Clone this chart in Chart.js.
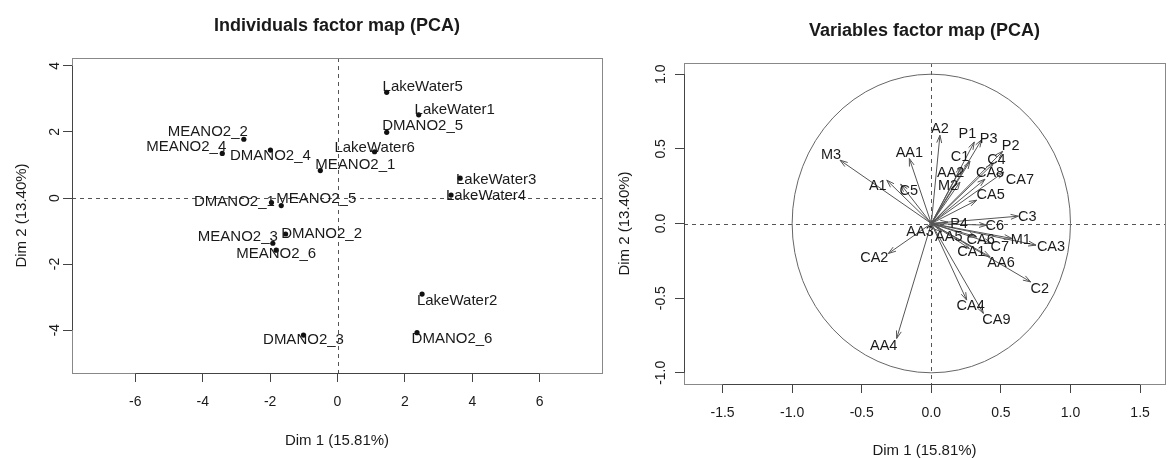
<!DOCTYPE html>
<html>
<head>
<meta charset="utf-8">
<script src="https://cdn.jsdelivr.net/npm/chart.js@4.4.1/dist/chart.umd.min.js"></script>
<style>
  body { margin: 0; background: #fff; width: 1169px; height: 458px; overflow: hidden; position: relative; }
  canvas { position: absolute; top: 0; }
  #indCanvas { left: 0; }
  #varCanvas { left: 606px; }
</style>
</head>
<body>
<canvas id="indCanvas" width="606" height="458"></canvas>
<canvas id="varCanvas" width="563" height="458"></canvas>
<script>
// Individuals (left map)
const indNames = ['LakeWater5', 'LakeWater1', 'DMANO2_5', 'LakeWater6', 'LakeWater3', 'LakeWater4',
  'MEANO2_2', 'MEANO2_4', 'DMANO2_4', 'MEANO2_1', 'DMANO2_1', 'MEANO2_5',
  'DMANO2_2', 'MEANO2_3', 'MEANO2_6', 'LakeWater2', 'DMANO2_6', 'DMANO2_3'];
const indDim1 = [1.46, 2.41, 1.46, 1.10, 3.64, 3.37, -2.78, -3.42, -1.99, -0.51, -1.96, -1.67,
  -1.54, -1.92, -1.82, 2.51, 2.36, -1.01];
const indDim2 = [3.20, 2.52, 1.99, 1.40, 0.60, 0.09, 1.78, 1.35, 1.45, 0.83, -0.14, -0.23,
  -1.09, -1.37, -1.58, -2.91, -4.08, -4.15];
const indTicksX = [-6, -4, -2, 0, 2, 4, 6];
const indTicksY = [-4, -2, 0, 2, 4];

// Variables (right map)
const varNames = ['M3', 'A2', 'P1', 'P3', 'P2', 'AA1', 'C1', 'C4', 'AA2', 'CA8', 'CA7', 'M2', 'A1', 'C5',
  'CA5', 'C3', 'P4', 'C6', 'M1', 'CA3', 'CA6', 'C7', 'CA1', 'AA6', 'AA5', 'AA3', 'C2', 'CA4', 'CA9',
  'CA2', 'AA4'];
const varDim1 = [-0.656, 0.062, 0.309, 0.362, 0.513, -0.158, 0.278, 0.446, 0.218, 0.386, 0.522, 0.206,
  -0.320, -0.220, 0.326, 0.625, 0.120, 0.398, 0.578, 0.752, 0.326, 0.434, 0.273, 0.422, 0.075, -0.009,
  0.714, 0.254, 0.374, -0.309, -0.249];
const varDim2 = [0.424, 0.591, 0.546, 0.562, 0.484, 0.435, 0.417, 0.402, 0.379, 0.297, 0.345, 0.278,
  0.290, 0.263, 0.156, 0.049, 0.009, -0.011, -0.100, -0.145, -0.090, -0.134, -0.167, -0.223, -0.056,
  -0.031, -0.391, -0.513, -0.602, -0.201, -0.770];
const varTicksX = [-1.5, -1.0, -0.5, 0, 0.5, 1.0, 1.5];
const varTicksY = [-1.0, -0.5, 0, 0.5, 1.0];

const dim1Title = 'Dim 1 (15.81%)';
const dim2Title = 'Dim 2 (13.40%)';

// label placement (pixel offsets from the point / arrow tip)
const indLabelOffsets = [[36, -5], [36, -5], [36, -6], [0, -4], [36, 2], [35, 1], [-36, -7], [-36, -7],
  [0, 6], [35, -6], [-37, -1], [35, -7], [36, 0], [-35, -6], [0, 4], [35, 7], [35, 6], [0, 5]];
const varLabelOffsets = [[-9, -5], [0, -6], [-7, -8], [7, -1], [8, -5], [0, -6], [-10, -4], [3, -3],
  [-11, 6], [5, -6], [16, 8], [-12, 4], [-9, 6], [8, 7], [14, -5], [9, 1], [11, 2], [8, 1], [9, 2],
  [15, 2], [4, 3], [8, 3], [2, 4], [11, 6], [7, 5], [-10, 4], [9, 7], [4, 6], [13, 7], [-14, 4], [-13, 8]];

Chart.defaults.font.family = "'Liberation Sans', Arial, Helvetica, sans-serif";
Chart.defaults.color = '#1a1a1a';

const textColor = '#1a1a1a';

function makeScales(o) {
  const tickFont = { size: 14 };
  const titleFont = { size: 15, lineHeight: 1 };
  return {
    x: {
      type: 'linear', position: 'bottom', min: o.xMin, max: o.xMax, bounds: 'data',
      afterBuildTicks: s => { s.ticks = o.xTicks.map(v => ({ value: v })); },
      afterFit: s => { s.height = o.xHeight; },
      grid: { drawOnChartArea: false, drawTicks: true, tickLength: 9, color: '#444' },
      border: { display: false },
      ticks: { font: tickFont, padding: 12, color: textColor, callback: o.fmt, maxRotation: 0, autoSkip: false },
      title: { display: true, text: dim1Title, font: titleFont, color: textColor, padding: { top: 0, bottom: o.xTitlePad } }
    },
    y: {
      type: 'linear', position: 'left', min: o.yMin, max: o.yMax, bounds: 'data',
      afterBuildTicks: s => { s.ticks = o.yTicks.map(v => ({ value: v })); },
      afterFit: s => { s.width = o.yWidth; },
      grid: { drawOnChartArea: false, drawTicks: true, tickLength: 9, color: '#444' },
      border: { display: false },
      ticks: { font: tickFont, padding: 2, color: textColor, callback: o.fmt, minRotation: 90, maxRotation: 90,
        crossAlign: 'center', autoSkip: false },
      title: { display: true, text: dim2Title, font: titleFont, color: textColor, padding: { top: o.yTitlePad, bottom: 0 } }
    }
  };
}

// R-like frame: dashed zero lines, gray box, axis lines between outer ticks, main title
const rFrame = {
  id: 'rFrame',
  beforeDatasetsDraw(chart) {
    const { ctx, chartArea: a, scales: { x, y } } = chart;
    ctx.save();
    ctx.strokeStyle = '#555';
    ctx.lineWidth = 1;
    ctx.setLineDash([4, 4]);
    const x0 = Math.round(x.getPixelForValue(0)) + 0.5;
    const y0 = Math.round(y.getPixelForValue(0)) + 0.5;
    ctx.beginPath();
    ctx.moveTo(x0, a.top); ctx.lineTo(x0, a.bottom);
    ctx.moveTo(a.left, y0); ctx.lineTo(a.right, y0);
    ctx.stroke();
    ctx.restore();
  },
  afterDraw(chart, args, opts) {
    const { ctx, chartArea: a, scales: { x, y } } = chart;
    ctx.save();
    ctx.strokeStyle = '#888';
    ctx.lineWidth = 1;
    ctx.strokeRect(Math.round(a.left) + 0.5, Math.round(a.top) + 0.5,
      Math.round(a.right - a.left), Math.round(a.bottom - a.top));
    ctx.strokeStyle = '#444';
    ctx.beginPath();
    const bx = Math.round(a.bottom) + 0.5, lx = Math.round(a.left) + 0.5;
    ctx.moveTo(x.getPixelForValue(x.ticks[0].value), bx);
    ctx.lineTo(x.getPixelForValue(x.ticks[x.ticks.length - 1].value), bx);
    ctx.moveTo(lx, y.getPixelForValue(y.ticks[0].value));
    ctx.lineTo(lx, y.getPixelForValue(y.ticks[y.ticks.length - 1].value));
    ctx.stroke();
    // main title
    ctx.fillStyle = textColor;
    ctx.font = "bold 18px 'Liberation Sans', Arial, sans-serif";
    ctx.textAlign = 'center';
    ctx.textBaseline = 'middle';
    ctx.fillText(opts.title, (a.left + a.right) / 2, a.top - 32);
    ctx.restore();
  }
};

// Left: individuals factor map
const indLabels = {
  id: 'indLabels',
  afterDatasetsDraw(chart) {
    const { ctx } = chart;
    const meta = chart.getDatasetMeta(0);
    ctx.save();
    ctx.fillStyle = textColor;
    ctx.font = "15px 'Liberation Sans', Arial, sans-serif";
    ctx.textAlign = 'center';
    ctx.textBaseline = 'middle';
    meta.data.forEach((pt, i) => {
      ctx.fillText(indNames[i], pt.x + indLabelOffsets[i][0], pt.y + indLabelOffsets[i][1]);
    });
    ctx.restore();
  }
};

new Chart(document.getElementById('indCanvas'), {
  type: 'scatter',
  data: {
    datasets: [{
      data: indDim1.map((v, i) => ({ x: v, y: indDim2[i] })),
      pointRadius: 2.6,
      pointBackgroundColor: '#111',
      pointBorderWidth: 0
    }]
  },
  options: {
    responsive: false,
    animation: false,
    layout: { padding: { left: 0, right: 3, top: 58, bottom: 0 } },
    plugins: { legend: { display: false }, tooltip: { enabled: false }, rFrame: { title: 'Individuals factor map (PCA)' } },
    scales: makeScales({
      xMin: -7.88, xMax: 7.85, yMin: -5.30, yMax: 4.24,
      xTicks: indTicksX, yTicks: indTicksY, fmt: v => String(v),
      xHeight: 85, yWidth: 72, xTitlePad: 10, yTitlePad: 14
    })
  },
  plugins: [rFrame, indLabels]
});

// Right: variables factor map
const varArrows = {
  id: 'varArrows',
  beforeDatasetsDraw(chart) {
    const { ctx, scales: { x, y } } = chart;
    const cx = x.getPixelForValue(0), cy = y.getPixelForValue(0);
    ctx.save();
    ctx.strokeStyle = '#666';
    ctx.lineWidth = 1;
    ctx.beginPath();
    ctx.ellipse(cx, cy, x.getPixelForValue(1) - cx, cy - y.getPixelForValue(1), 0, 0, Math.PI * 2);
    ctx.stroke();
    ctx.restore();
  },
  afterDatasetsDraw(chart) {
    const { ctx } = chart;
    ctx.save();
    ctx.strokeStyle = '#555';
    ctx.lineWidth = 1;
    ctx.fillStyle = textColor;
    ctx.font = "14.5px 'Liberation Sans', Arial, sans-serif";
    ctx.textAlign = 'center';
    ctx.textBaseline = 'middle';
    chart.data.datasets.forEach((ds, i) => {
      const pts = chart.getDatasetMeta(i).data;
      const p0 = pts[0], p1 = pts[1];
      const ang = Math.atan2(p1.y - p0.y, p1.x - p0.x);
      const len = 8, spread = Math.PI / 10;
      ctx.beginPath();
      ctx.moveTo(p1.x - len * Math.cos(ang - spread), p1.y - len * Math.sin(ang - spread));
      ctx.lineTo(p1.x, p1.y);
      ctx.lineTo(p1.x - len * Math.cos(ang + spread), p1.y - len * Math.sin(ang + spread));
      ctx.stroke();
    });
    chart.data.datasets.forEach((ds, i) => {
      const p1 = chart.getDatasetMeta(i).data[1];
      ctx.fillText(varNames[i], p1.x + varLabelOffsets[i][0], p1.y + varLabelOffsets[i][1]);
    });
    ctx.restore();
  }
};

new Chart(document.getElementById('varCanvas'), {
  type: 'scatter',
  data: {
    datasets: varNames.map((name, i) => ({
      label: name,
      data: [{ x: 0, y: 0 }, { x: varDim1[i], y: varDim2[i] }],
      showLine: true,
      borderColor: '#555',
      borderWidth: 1,
      pointRadius: 0
    }))
  },
  options: {
    responsive: false,
    animation: false,
    layout: { padding: { left: 0, right: 4, top: 63, bottom: 0 } },
    plugins: { legend: { display: false }, tooltip: { enabled: false }, rFrame: { title: 'Variables factor map (PCA)' } },
    scales: makeScales({
      xMin: -1.777, xMax: 1.679, yMin: -1.075, yMax: 1.075,
      xTicks: varTicksX, yTicks: varTicksY, fmt: v => v.toFixed(1),
      xHeight: 74, yWidth: 78, xTitlePad: 0, yTitlePad: 11
    })
  },
  plugins: [rFrame, varArrows]
});
</script>
</body>
</html>
